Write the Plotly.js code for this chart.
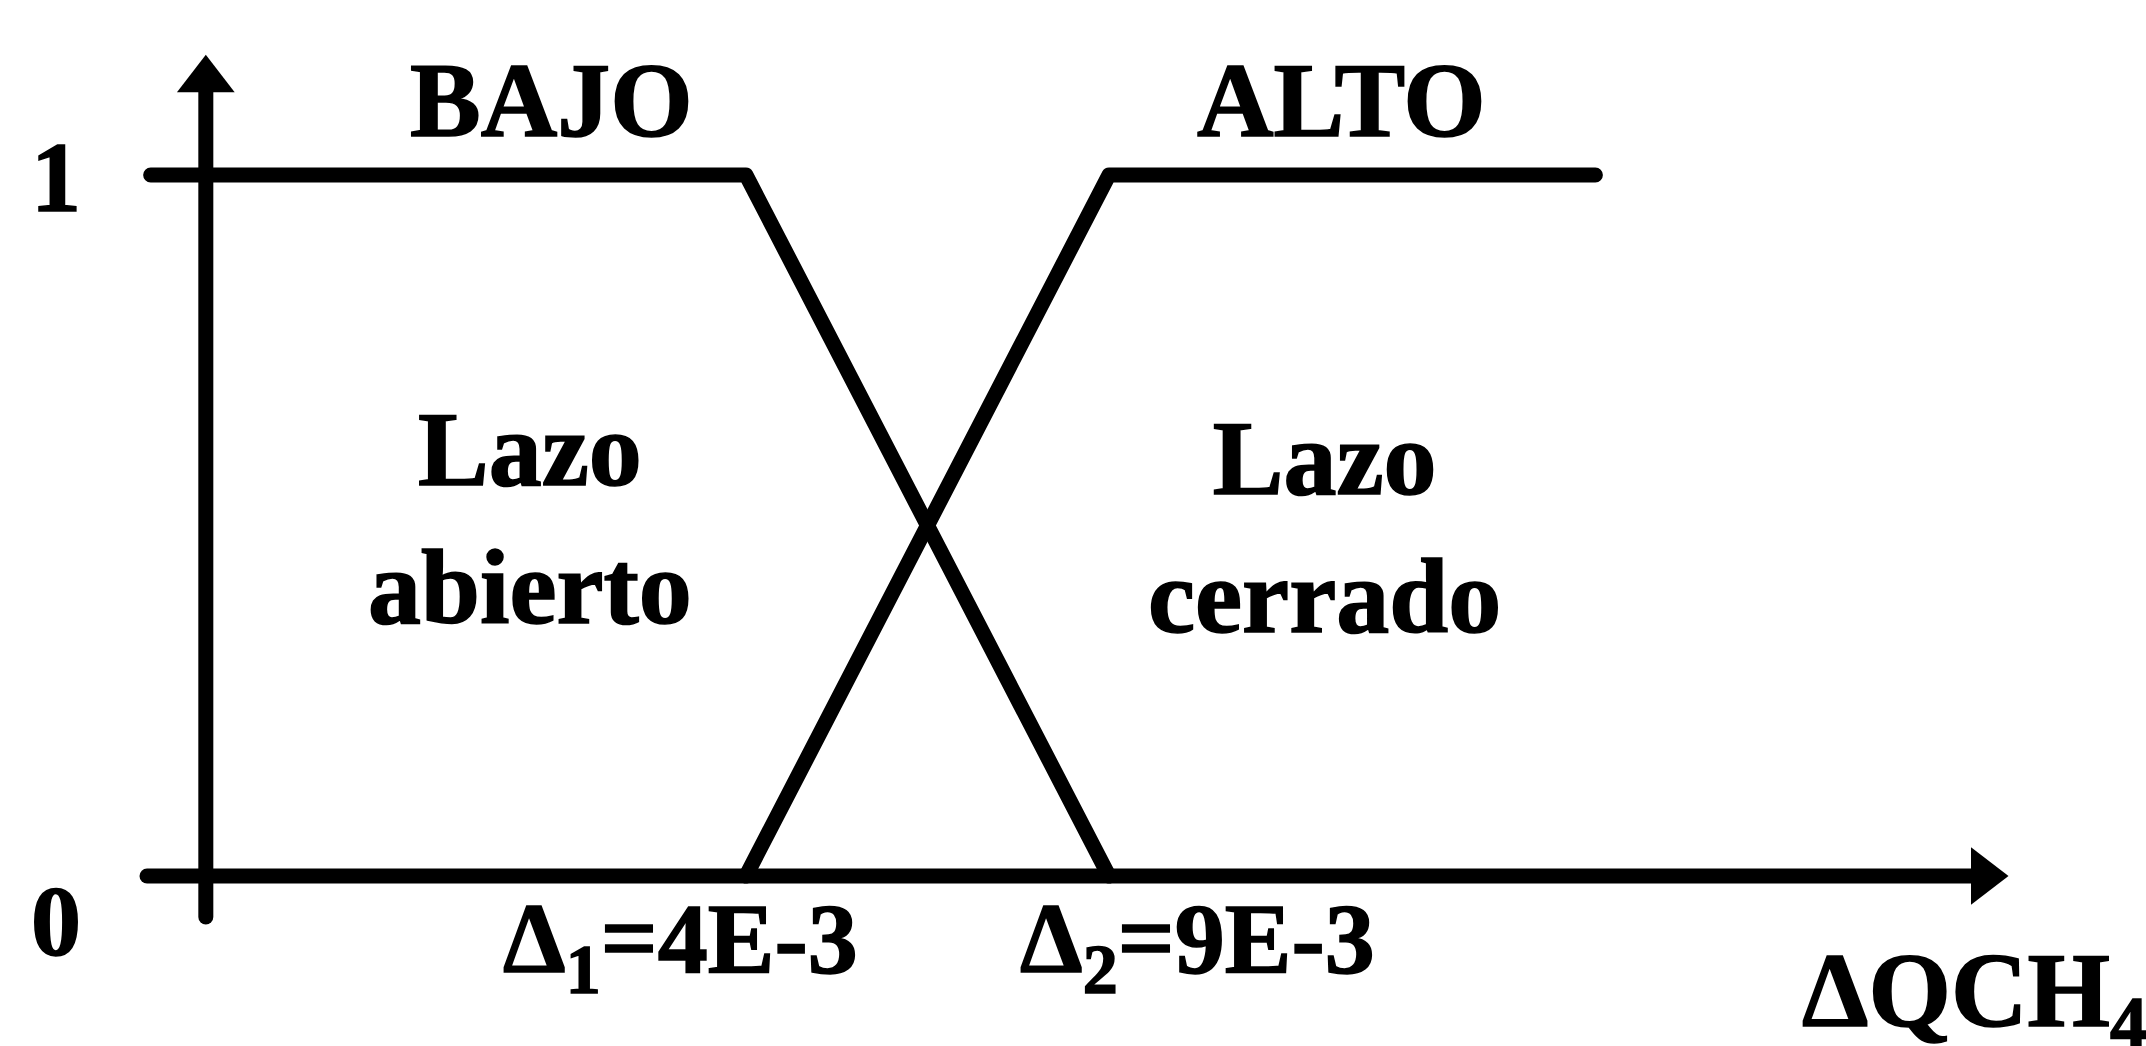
<!DOCTYPE html>
<html><head><meta charset="utf-8">
<script src="https://cdn.plot.ly/plotly-3.0.1.min.js"></script>
<style>
html,body{margin:0;padding:0;background:#fff;overflow:hidden;}
#chart{width:2146px;height:1046px;}
.scatterlayer .js-line{stroke-linecap:round !important;stroke-linejoin:round !important;}
.annotation-text{stroke:#000;stroke-width:1.6px;}
</style></head><body><div id="chart"></div>
<script>
// Membership-function breakpoints on the ΔQCH4 universe
const breakpoints = [0.004, 0.009];                 // Δ1, Δ2
const breakpointLabels = ['Δ<sub>1</sub>=4E-3', 'Δ<sub>2</sub>=9E-3'];
const universeMin = -0.00420;                        // left end of the drawn BAJO plateau
const universeMax = 0.01570;                         // right end of the drawn ALTO plateau
const bajoX = [universeMin, 0.004, 0.009];
const bajoY = [1, 1, 0];
const altoX = [0.004, 0.009, universeMax];
const altoY = [0, 1, 1];
const membershipTicks = [0, 1];
const membershipTickLabels = ['0', '1'];
const setNames = ['BAJO', 'ALTO'];
const regionLabels = ['Lazo<br>abierto', 'Lazo<br>cerrado'];
const axisName = 'ΔQCH<sub>4</sub>';

// Drawing frame (decoration: the hand-drawn axes with arrows)
const xRange = [-0.006275, 0.023284];
const yRange = [-0.2425, 1.2496];
const vAxisX = -0.00344;
const vAxisBottom = -0.0585;
const vArrowY = 1.136;
const hAxisLeft = -0.00425;
const hArrowX = 0.021046;

const black = '#000000';
const lw = 15;
const font = 'Liberation Serif, Times New Roman, serif';

const traces = [
  {x: [vAxisX, vAxisX], y: [vAxisBottom, vArrowY], mode: 'lines', line: {color: black, width: lw}, hoverinfo: 'skip'},
  {x: [hAxisLeft, hArrowX], y: [0, 0], mode: 'lines', line: {color: black, width: lw}, hoverinfo: 'skip'},
  {x: [vAxisX], y: [vArrowY], mode: 'markers', marker: {symbol: 'triangle-up', size: 50, color: black, line: {width: 0}}, hoverinfo: 'skip'},
  {x: [hArrowX], y: [0], mode: 'markers', marker: {symbol: 'triangle-right', size: 50, color: black, line: {width: 0}}, hoverinfo: 'skip'},
  {x: bajoX, y: bajoY, mode: 'lines', name: setNames[0], line: {color: black, width: lw}},
  {x: altoX, y: altoY, mode: 'lines', name: setNames[1], line: {color: black, width: lw}}
];

const W = 2146, H = 1046;
function px(x){return x / W;}
function py(y){return 1 - y / H;}
const big = {family: font, size: 106, color: black, weight: 'bold'};
const mid = {family: font, size: 100, color: black, weight: 'bold'};
const axf = {family: font, size: 106, color: black, weight: 'bold'};

const annotations = [
  {text: '<b>' + setNames[0] + '</b>', x: px(551), y: py(100), xref: 'paper', yref: 'paper', showarrow: false, font: big, xanchor: 'center', yanchor: 'middle'},
  {text: '<b>' + setNames[1] + '</b>', x: px(1341), y: py(100), xref: 'paper', yref: 'paper', showarrow: false, font: big, xanchor: 'center', yanchor: 'middle'},
  {text: '<b>' + regionLabels[0] + '</b>', x: px(530), y: py(518), xref: 'paper', yref: 'paper', showarrow: false, font: big, xanchor: 'center', yanchor: 'middle', align: 'center'},
  {text: '<b>' + regionLabels[1] + '</b>', x: px(1324), y: py(527), xref: 'paper', yref: 'paper', showarrow: false, font: big, xanchor: 'center', yanchor: 'middle', align: 'center'},
  {text: '<b>' + breakpointLabels[0] + '</b>', x: breakpoints[0], y: 0, xref: 'x', yref: 'y', xshift: -65, yshift: -69, showarrow: false, font: mid, xanchor: 'center', yanchor: 'middle'},
  {text: '<b>' + breakpointLabels[1] + '</b>', x: breakpoints[1], y: 0, xref: 'x', yref: 'y', xshift: 89, yshift: -69, showarrow: false, font: mid, xanchor: 'center', yanchor: 'middle'},
  {text: '<b>' + membershipTickLabels[1] + '</b>', x: px(56), y: membershipTicks[1], xref: 'paper', yref: 'y', yshift: -3, showarrow: false, font: mid, xanchor: 'center', yanchor: 'middle'},
  {text: '<b>' + membershipTickLabels[0] + '</b>', x: px(56), y: membershipTicks[0], xref: 'paper', yref: 'y', yshift: -44, showarrow: false, font: mid, xanchor: 'center', yanchor: 'middle'},
  {text: '<b>' + axisName + '</b>', x: px(1800), y: py(998), xref: 'paper', yref: 'paper', showarrow: false, font: axf, xanchor: 'left', yanchor: 'middle'}
];

const layout = {
  width: W, height: H,
  margin: {l: 0, r: 0, t: 0, b: 0},
  paper_bgcolor: '#ffffff', plot_bgcolor: '#ffffff',
  showlegend: false,
  xaxis: {range: xRange, visible: false, fixedrange: true},
  yaxis: {range: yRange, visible: false, fixedrange: true},
  annotations: annotations
};

Plotly.newPlot('chart', traces, layout, {staticPlot: true, displayModeBar: false});
</script></body></html>
